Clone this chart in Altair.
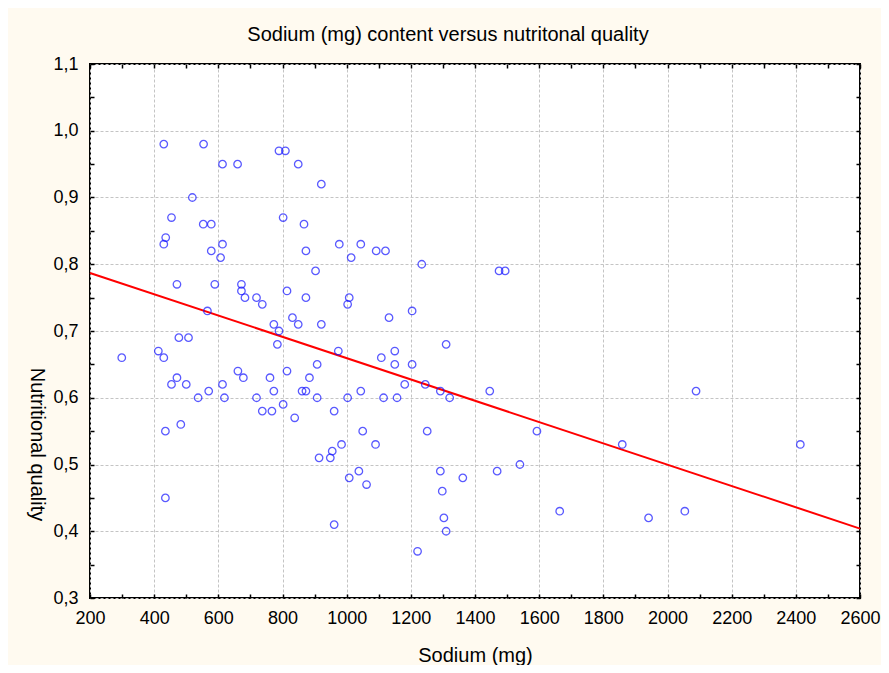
import altair as alt
import pandas as pd

# ---- data ----
sodium = [430, 554, 613, 660, 789, 809, 849, 921, 519, 454,
          802, 553, 578, 867, 436, 430, 613, 977, 1044, 578,
          873, 1092, 1121, 607, 1014, 1234, 903, 1475, 1494, 471,
          589, 672, 672, 814, 683, 719, 873, 1008, 737, 1003,
          566, 1204, 831, 1132, 773, 849, 921, 789, 477, 507,
          784, 1310, 413, 974, 1150, 299, 430, 1108, 908, 1150,
          1204, 661, 814, 471, 678, 761, 884, 454, 500, 613,
          1181, 1245, 570, 773, 861, 873, 1044, 1292, 1446, 2089,
          537, 619, 719, 908, 1003, 1115, 1157, 1321, 802, 737,
          767, 961, 838, 483, 435, 1050, 1251, 1593, 984, 1090,
          1859, 2414, 955, 914, 949, 1540, 1038, 1292, 1469, 1008,
          1362, 1062, 1298, 435, 1664, 2054, 1303, 1941, 961, 1310,
          1221]
quality = [0.98, 0.98, 0.95, 0.95, 0.97, 0.97, 0.95, 0.92, 0.90, 0.87,
           0.87, 0.86, 0.86, 0.86, 0.84, 0.83, 0.83, 0.83, 0.83, 0.82,
           0.82, 0.82, 0.82, 0.81, 0.81, 0.80, 0.79, 0.79, 0.79, 0.77,
           0.77, 0.77, 0.76, 0.76, 0.75, 0.75, 0.75, 0.75, 0.74, 0.74,
           0.73, 0.73, 0.72, 0.72, 0.71, 0.71, 0.71, 0.70, 0.69, 0.69,
           0.68, 0.68, 0.67, 0.67, 0.67, 0.66, 0.66, 0.66, 0.65, 0.65,
           0.65, 0.64, 0.64, 0.63, 0.63, 0.63, 0.63, 0.62, 0.62, 0.62,
           0.62, 0.62, 0.61, 0.61, 0.61, 0.61, 0.61, 0.61, 0.61, 0.61,
           0.60, 0.60, 0.60, 0.60, 0.60, 0.60, 0.60, 0.60, 0.59, 0.58,
           0.58, 0.58, 0.57, 0.56, 0.55, 0.55, 0.55, 0.55, 0.53, 0.53,
           0.53, 0.53, 0.52, 0.51, 0.51, 0.50, 0.49, 0.49, 0.49, 0.48,
           0.48, 0.47, 0.46, 0.45, 0.43, 0.43, 0.42, 0.42, 0.41, 0.40,
           0.37]

fit_sodium = [200, 2600]
fit_quality = [0.787, 0.404]

x_label_values = list(range(200, 2601, 200))
x_tick_values = list(range(200, 2601, 100))
y_label_values = [0.3, 0.4, 0.5, 0.6, 0.7, 0.8, 0.9, 1.0, 1.1]
y_tick_values = [round(0.30 + 0.05 * i, 2) for i in range(17)]

points = pd.DataFrame({"sodium": sodium, "quality": quality})
fit = pd.DataFrame({"sodium": fit_sodium, "quality": fit_quality})

FONT = "Liberation Sans"
xscale = alt.Scale(domain=[200, 2600], nice=False, zero=False)
yscale = alt.Scale(domain=[0.3, 1.1], nice=False, zero=False)
ylab = "replace(format(datum.value, '.1f'), '.', ',')"


def tick_axis(orient, values):
    return alt.Axis(orient=orient, offset=-4, values=values, tickSize=4,
                    tickColor="black", tickWidth=1.5, labels=False,
                    domain=False, grid=False, title="")


main = alt.Chart(fit).mark_line(color="#ff0000", strokeWidth=2).encode(
    x=alt.X("sodium:Q", scale=xscale,
            axis=alt.Axis(values=x_label_values, format="d", title="Sodium (mg)",
                          grid=True, gridColor="#c4c4c4", gridDash=[3, 2],
                          ticks=False, domain=False, labelPadding=20,
                          labelFlush=False, labelOverlap=False,
                          labelBaseline="middle", labelFontSize=18,
                          labelColor="black", titleFontSize=20,
                          titleFontWeight="normal", titleColor="black",
                          titleY=57, titleBaseline="middle")),
    y=alt.Y("quality:Q", scale=yscale,
            axis=alt.Axis(values=y_label_values, labelExpr=ylab,
                          title="Nutritional quality", grid=True,
                          gridColor="#c4c4c4", gridDash=[3, 2], ticks=False,
                          domain=False, labelPadding=12, labelFontSize=18,
                          labelFlush=False, labelOverlap=False,
                          labelColor="black", titleFontSize=20,
                          titleFontWeight="normal", titleColor="black",
                          titleAngle=90, titleX=-54, titleY=380,
                          titleAlign="center", titleBaseline="middle")),
)

pts = alt.Chart(points).mark_point(shape="circle", filled=False, color="#1414ff",
                                   size=56, strokeWidth=1.3).encode(
    x=alt.X("sodium:Q", scale=xscale, axis=tick_axis("bottom", x_tick_values)),
    y=alt.Y("quality:Q", scale=yscale, axis=tick_axis("left", y_tick_values)),
)

ghost = alt.Chart(points).mark_point(opacity=0).encode(
    x=alt.X("sodium:Q", scale=xscale, axis=tick_axis("top", x_tick_values)),
    y=alt.Y("quality:Q", scale=yscale, axis=tick_axis("right", y_tick_values)),
)

chart = alt.layer(main, pts, ghost).resolve_axis(
    x="independent", y="independent"
).properties(
    width=770, height=534,
    autosize=alt.AutoSizeParams(type="none"),
    padding={"left": 82, "top": 56, "right": 21, "bottom": 67},
    background="#FFFAF0",
    title=alt.Title("Sodium (mg) content versus nutritonal quality",
                    fontSize=20, fontWeight="normal", color="black",
                    offset=10, frame="group", dx=-27, font=FONT),
).configure(font=FONT).configure_view(stroke="black", strokeWidth=2, fill="white")

chart.save("out.html", embed_options={"renderer": "svg", "actions": False})
